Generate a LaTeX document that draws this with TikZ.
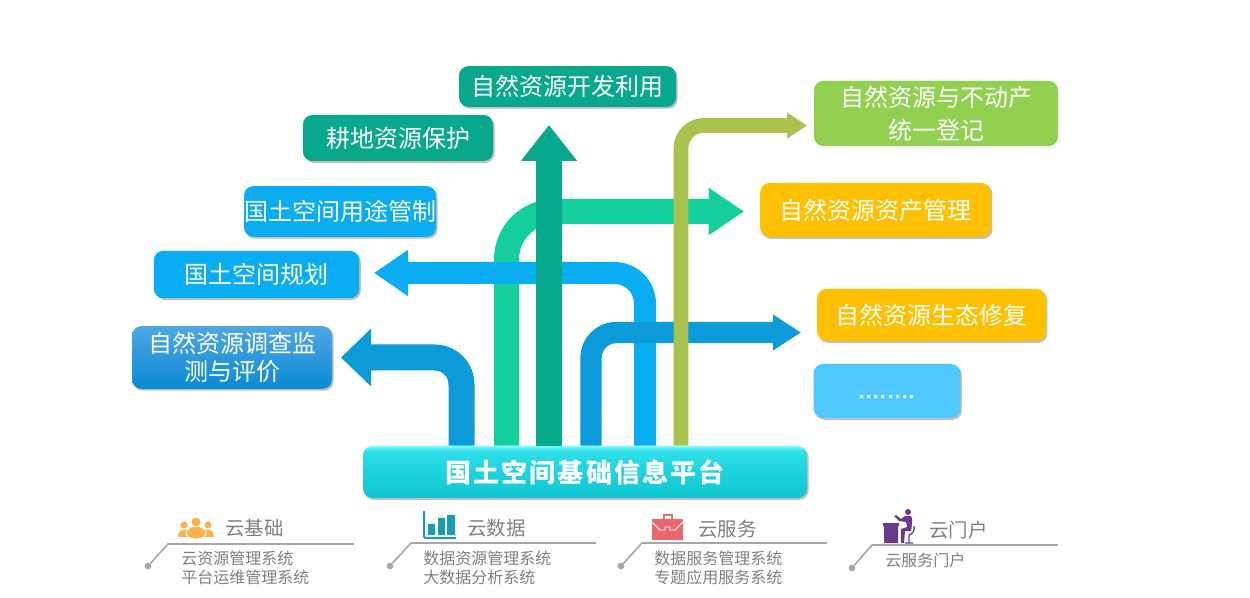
\documentclass[tikz,border=0pt]{standalone}
\usepackage{fontspec}
\setmainfont{Noto Sans CJK SC}
\usetikzlibrary{arrows.meta,shadows}
\definecolor{teal}{HTML}{08A88C}
\definecolor{mint}{HTML}{14CF9B}
\definecolor{sky}{HTML}{0AADF2}
\definecolor{ocean}{HTML}{0D9AD8}
\definecolor{olive}{HTML}{A9C24E}
\definecolor{leaf}{HTML}{92D050}
\definecolor{amber}{HTML}{FFC000}
\definecolor{pale}{HTML}{4DC9FF}
\definecolor{ink}{HTML}{7F7F7F}
\definecolor{rule}{HTML}{A6A6A6}
\definecolor{platlow}{HTML}{10C6D0}
\definecolor{platmid}{HTML}{1DD3DE}
\definecolor{plathigh}{HTML}{30DEE8}
\definecolor{plattop}{HTML}{80FBFF}
\definecolor{crowd}{HTML}{F9B24E}
\definecolor{chart}{HTML}{1A9BAF}
\definecolor{case}{HTML}{E8686E}
\definecolor{desk}{HTML}{6B3A8C}
\definecolor{surveytop}{HTML}{4FA6E4}
\definecolor{surveylow}{HTML}{0A8AD4}
\pgfdeclareverticalshading{platshade}{100bp}{%
  color(0bp)=(platlow);
  color(25bp)=(platlow);
  color(50bp)=(platmid);
  color(70bp)=(plathigh);
  color(75bp)=(plattop);
  color(100bp)=(plattop)}
\tikzset{
  box/.style={rounded corners=7pt,minimum width=#1,text=white,align=center,inner sep=0pt,
    font=\fontsize{18}{25}\selectfont},
  lifted/.style={drop shadow={shadow xshift=1.2pt,shadow yshift=-1.4pt,fill=black,opacity=.25}},
  pipe/.style={line width=#1,line join=round},
  title/.style={text=ink,inner sep=0pt,font=\fontsize{14.6}{18}\selectfont},
  sub/.style={text=ink,anchor=west,align=left,inner sep=0pt,font=\fontsize{12}{14.3}\selectfont},
  dotmark/.style={circle,fill=rule,minimum size=5pt,inner sep=0pt},
  leader/.style={rule,line width=1.2pt}
}
\begin{document}
\begin{tikzpicture}[x=0.75pt,y=-0.75pt]
\useasboundingbox (0,0) rectangle (1250,598);
% platform
\node[rounded corners=7pt,minimum width=333pt,minimum height=39pt,inner sep=0pt,shading=platshade,lifted,text=white,font=\fontsize{19.5}{22}\selectfont\bfseries\addfontfeature{LetterSpace=8}] (plat) at (585,472) {国土空间基础信息平台};
% boxes
\node[box=162.75pt,fill=teal,minimum height=30.5pt,lifted] (kaifa) at (567.5,86.5) {自然资源开发利用};
\node[box=142.5pt,fill=teal,minimum height=34.5pt,lifted] (gengdi) at (398,138) {耕地资源保护};
\node[box=142.5pt,fill=sky,minimum height=38pt,lifted] (yongtu) at (340,211.5) {国土空间用途管制};
\node[box=154pt,fill=sky,minimum height=35.5pt,lifted] (guihua) at (256.5,274.5) {国土空间规划};
\node[box=150pt,top color=surveytop,bottom color=surveylow,minimum height=47pt,lifted,font=\fontsize{18}{21}\selectfont] (diaocha) at (232,357.5) {自然资源调查监\\测与评价};
\node[box=183pt,fill=leaf,minimum height=49pt] (dengji) at (936,113.5) {自然资源与不动产\\统一登记};
\node[box=173pt,fill=amber,minimum height=40.5pt,lifted] (zichan) at (875.5,210) {自然资源资产管理};
\node[box=171.5pt,fill=amber,minimum height=39pt,lifted] (xiufu) at (931.5,315) {自然资源生态修复};
\node[box=110pt,fill=pale,minimum height=40.5pt,lifted,font=\fontsize{19.5}{25}\selectfont] (more) at (887,391) {\raisebox{-6pt}[0pt][0pt]{........}};
% arrows
\draw[pipe=19.5pt,ocean,rounded corners=20pt,-{Triangle[length=22.5pt,width=42pt]}] (461.5,0 |- plat.north) -- (461.5,357.5) -- (341,357.5);
\draw[pipe=18.75pt,mint,rounded corners=36pt,-{Triangle[length=26.5pt,width=33.75pt]}] (506.5,0 |- plat.north) -- (506.5,211.5) -- (744,211.5);
\draw[pipe=16.5pt,sky,rounded corners=23pt,-{Triangle[length=25.5pt,width=33pt]}] (645,0 |- plat.north) -- (645,273) -- (374,273);
\draw[pipe=19.5pt,teal,-{Triangle[length=27pt,width=40.5pt]}] (549,0 |- plat.north) -- (549,125);
\draw[pipe=16pt,ocean,rounded corners=19pt,-{Triangle[length=21pt,width=25.5pt]}] (591,0 |- plat.north) -- (591,332.5) -- (801,332.5);
\draw[pipe=11pt,olive,rounded corners=17pt,-{Triangle[length=15pt,width=18.75pt]}] (681,0 |- plat.north) -- (681,125.5) -- (807,125.5);
% bottom captions
\foreach \n/\dx/\dy/\kx/\ky/\ex in {a/148/566/168/544/354,b/390/566/411/543/596,c/621/566/642/543/827,d/852/568/872/545/1058}{
  \node[dotmark] (dot\n) at (\dx,\dy) {};
  \coordinate (kink\n) at (\kx,\ky);
  \coordinate (end\n) at (\ex,\ky);
  \draw[leader] (dot\n) -- (kink\n) -- (end\n);
}
\node[title] (ta) at (254.5,528) {云基础};
\node[title] (tb) at (496.5,528) {云数据};
\node[title] (tc) at (727.5,529) {云服务};
\node[title] (td) at (958.5,530) {云门户};
\node[sub] (sa) at (181,567.5) {云资源管理系统\\平台运维管理系统};
\node[sub] (sb) at (423,567.5) {数据资源管理系统\\大数据分析系统};
\node[sub] (sc) at (654,567.5) {数据服务管理系统\\专题应用服务系统};
\node[sub] (sd) at (885,560.5) {云服务门户};
% people icon
\fill[crowd] (196,522) circle (4.5) (184,525) circle (3.5) (208,525) circle (3.5)
  (178,537) .. controls (178,527) and (190,527) .. (190,537) -- cycle
  (202,537) .. controls (202,527) and (214,527) .. (214,537) -- cycle;
\fill[crowd,draw=white,line width=.6pt] (186,533) .. controls (187,524) and (205,524) .. (206,533) .. controls (205,541) and (187,541) .. (186,533) -- cycle;
% chart icon
\draw[chart,line width=1.5pt,rounded corners=1.5pt] (424,511) -- (424,538) -- (456,538);
\fill[chart] (428,524) rectangle (435,535) (438,518) rectangle (445,535) (447,515) rectangle (455,535);
% case icon
\fill[case] (652,519) rectangle (683,540);
\draw[case,line width=2pt] (664,519) -- (664,515) -- (672,515) -- (672,519);
\draw[white,line width=.7pt] (652,522) -- (660,530) -- (665,530) -- (665,527) -- (670,527) -- (670,530) -- (675,530) -- (683,522);
% desk icon
\fill[desk] (883,523) rectangle (899,526) (884,526) rectangle (898,543) (908,512) circle (3);
\fill[desk] (905,516) -- (911,516) .. controls (913,518) and (912,526) .. (911,531) -- (905,531) -- (904,543) -- (901,543) -- (901,529) -- (907,527) -- (906,522) -- (899,521) -- (894,516) -- (896,515) -- (901,519) -- cycle;
\draw[desk,line width=1pt] (914,526) .. controls (915,530) and (913,534) .. (909,535) -- (909,543) (905,543) -- (913,543);
\end{tikzpicture}
\end{document}
